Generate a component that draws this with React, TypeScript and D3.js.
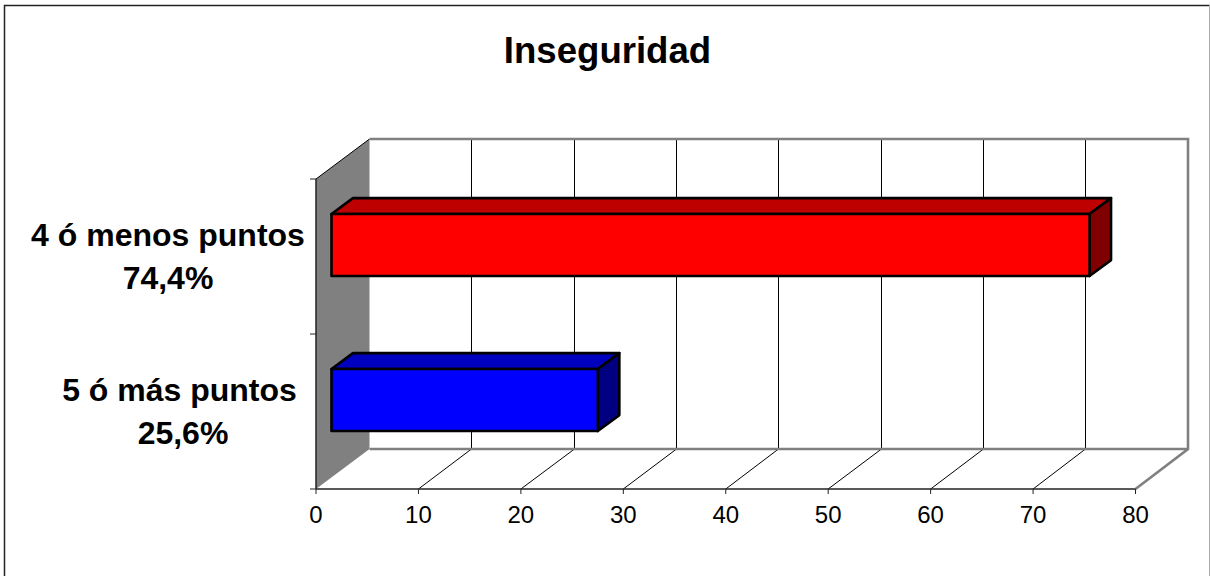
import React, { useEffect, useRef } from "react";
import * as d3 from "d3";

const categories = ["4 ó menos puntos", "5 ó más puntos"];
const percentLabels = ["74,4%", "25,6%"];
const values = [74, 26];
const barColors = ["#ff0000", "#0000ff"];
const topColors = ["#bf0000", "#0000bf"];
const sideColors = ["#800000", "#000080"];
const xTicks = [0, 10, 20, 30, 40, 50, 60, 70, 80];

const width = 1210;
const height = 576;

const App = () => {
  const ref = useRef<SVGSVGElement>(null);

  useEffect(() => {
    const svg = d3.select(ref.current);
    svg.selectAll("*").remove();

    const x = d3.scaleLinear().domain([0, 80]).range([316, 1135.5]);
    const xBack = d3.scaleLinear().domain([0, 80]).range([369.5, 1188]);
    const y = d3.scaleBand().domain(categories).range([179, 489]).paddingInner(0.6).paddingOuter(0.3);
    const band = d3.scaleBand().domain(categories).range([179, 489]);

    // 3D depth: 0 = front plane, 1 = back wall
    const depthX = d3.scaleLinear().domain([0, 1]).range([0, 54]);
    const depthY = d3.scaleLinear().domain([0, 1]).range([0, -40]);
    const barDepthStart = 0.287;
    const barDepthEnd = 0.685;

    const crisp = (v: number) => Math.floor(v) + 0.5;
    const x0 = x(0);
    const x1 = x(80);
    const yTop = 179;
    const yBottom = 489;
    const by = depthY(1);
    const line = d3.line();

    // frame
    svg.append("path").attr("d", `M4.5,${height}V5.5H${width}`).attr("fill", "none").attr("stroke", "#222").attr("stroke-width", 1.5);
    svg.append("line").attr("x1", 1209.5).attr("x2", 1209.5).attr("y1", 5).attr("y2", height).attr("stroke", "#aaa").attr("stroke-width", 1);

    // left wall
    svg.append("path")
      .attr("d", line([[x0, yTop], [xBack(0), yTop + by], [xBack(0), yBottom + by], [x0, yBottom]]))
      .attr("fill", "#808080");
    svg.append("line").attr("x1", x0).attr("y1", yTop).attr("x2", xBack(0)).attr("y2", yTop + by).attr("stroke", "#000").attr("stroke-width", 1);

    // gridlines on back wall and floor
    xTicks.slice(1, -1).forEach((t) => {
      svg.append("path")
        .attr("d", line([[x(t), yBottom], [crisp(xBack(t)), yBottom + by], [crisp(xBack(t)), yTop + by]]))
        .attr("fill", "none").attr("stroke", "#000").attr("stroke-width", 1);
    });

    // back wall outline
    svg.append("path")
      .attr("d", line([[xBack(0), yTop + by], [xBack(80), yTop + by], [xBack(80), yBottom + by], [x1, yBottom]]))
      .attr("fill", "none").attr("stroke", "#808080").attr("stroke-width", 2.6);
    svg.append("line").attr("x1", xBack(0)).attr("y1", yBottom + by).attr("x2", xBack(80)).attr("y2", yBottom + by)
      .attr("stroke", "#808080").attr("stroke-width", 2.6);

    // bars
    categories.forEach((c, i) => {
      const sx = depthX(barDepthStart);
      const sy = depthY(barDepthStart);
      const ex = depthX(barDepthEnd);
      const ey = depthY(barDepthEnd);
      const left = x(0) + sx;
      const right = x(values[i]) + sx;
      const top = y(c)! + sy;
      const bottom = top + y.bandwidth();
      const dx = ex - sx;
      const dy = ey - sy;
      const g = svg.append("g").attr("stroke", "#000").attr("stroke-width", 2.6).attr("stroke-linejoin", "round");
      g.append("path").attr("fill", topColors[i])
        .attr("d", line([[left, top], [left + dx, top + dy], [right + dx, top + dy], [right, top]]) + "Z");
      g.append("path").attr("fill", sideColors[i])
        .attr("d", line([[right, top], [right + dx, top + dy], [right + dx, bottom + dy], [right, bottom]]) + "Z");
      g.append("rect").attr("fill", barColors[i])
        .attr("x", left).attr("y", top).attr("width", right - left).attr("height", bottom - top);
    });

    // axes
    const axisColor = "#222";
    svg.append("line").attr("x1", x0).attr("x2", x1).attr("y1", yBottom).attr("y2", yBottom).attr("stroke", axisColor).attr("stroke-width", 1.5);
    svg.append("line").attr("x1", x0).attr("x2", x0).attr("y1", yTop).attr("y2", yBottom).attr("stroke", axisColor).attr("stroke-width", 1.5);
    xTicks.forEach((t) => {
      svg.append("line").attr("x1", x(t)).attr("x2", x(t)).attr("y1", yBottom).attr("y2", yBottom + 5).attr("stroke", axisColor).attr("stroke-width", 1);
      svg.append("text").attr("x", x(t)).attr("y", 523).attr("text-anchor", "middle")
        .attr("font-size", 24).attr("fill", "#000").text(t);
    });
    [...categories.map((c) => band(c)!), yBottom].forEach((p) => {
      svg.append("line").attr("x1", x0 - 6).attr("x2", x0).attr("y1", p).attr("y2", p).attr("stroke", axisColor).attr("stroke-width", 1);
    });

    // category labels
    categories.forEach((c, i) => {
      const cx = i === 0 ? 168 : 179.5;
      const pctX = i === 0 ? 168 : 183;
      const base = i === 0 ? 245.5 : 401;
      svg.append("text").attr("x", cx).attr("y", base).attr("text-anchor", "middle")
        .attr("font-size", 32).attr("font-weight", "bold").attr("fill", "#000").text(c);
      svg.append("text").attr("x", pctX).attr("y", base + 43).attr("text-anchor", "middle")
        .attr("font-size", 32).attr("font-weight", "bold").attr("fill", "#000").text(percentLabels[i]);
    });

    // title
    svg.append("text").attr("x", 607.5).attr("y", 63).attr("text-anchor", "middle")
      .attr("font-size", 36.6).attr("font-weight", "bold").attr("fill", "#000").text("Inseguridad");
  }, []);

  return (
    <svg
      ref={ref}
      width={width}
      height={height}
      style={{ position: "absolute", left: 0, top: 0, background: "#fff", fontFamily: "'Liberation Sans', Arial, sans-serif" }}
    />
  );
};

export default App;
